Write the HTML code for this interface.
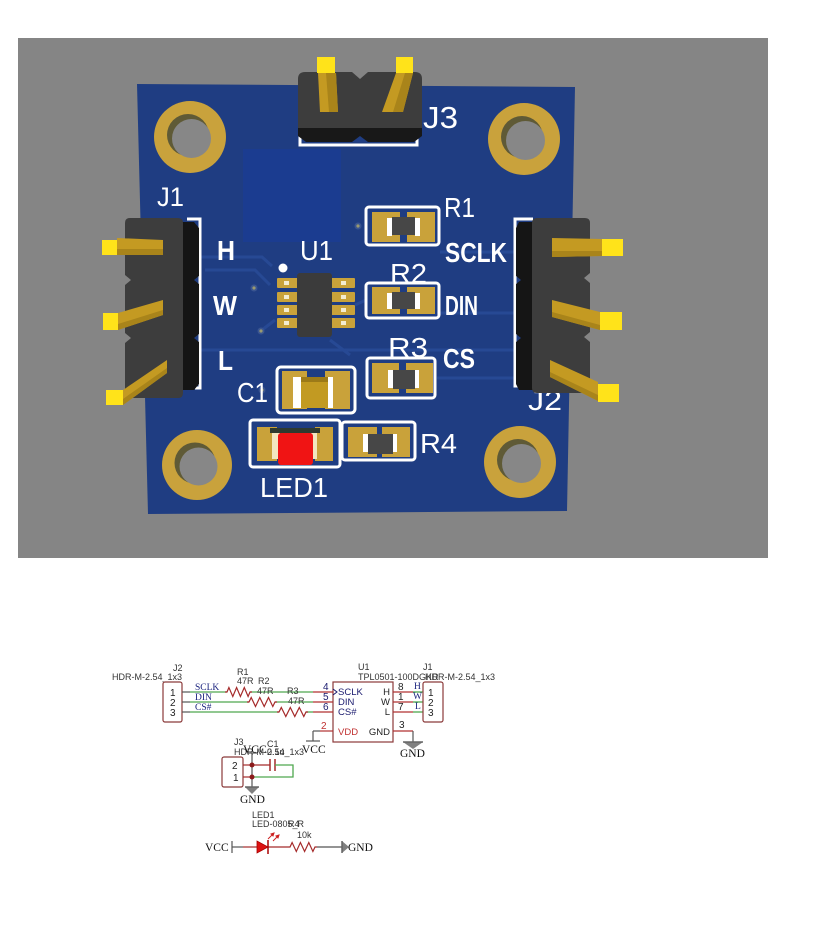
<!DOCTYPE html>
<html><head><meta charset="utf-8">
<style>
html,body{margin:0;padding:0;background:#fff;}
svg{display:block;}
.sil{font-family:"Liberation Sans",sans-serif;fill:#fff;font-size:28px;}
.b{font-weight:bold;}
.s{font-family:"Liberation Sans",sans-serif;font-size:9px;fill:#333;}
.pn{font-family:"Liberation Sans",sans-serif;font-size:10px;fill:#222;}
.n{font-family:"Liberation Serif",serif;font-size:9.5px;fill:#1a237e;}
.ul{font-family:"Liberation Sans",sans-serif;font-size:9.5px;fill:#1a1a6e;}
.p{font-family:"Liberation Serif",serif;font-size:11.5px;fill:#111;}
</style></head><body>
<svg width="822" height="928" viewBox="0 0 822 928" xmlns="http://www.w3.org/2000/svg">
<!-- ================= PCB RENDER ================= -->
<rect x="18" y="38" width="750" height="520" fill="#858585"/>
<polygon points="137,84 575,87 567,511 148,514" fill="#1f3d82"/>
<!-- copper pour area -->
<rect x="243" y="149" width="98" height="93" fill="#1b3c90"/>
<!-- traces -->
<g stroke="#284b97" stroke-width="3" fill="none" opacity="0.9">
<path d="M200,257 L262,257 L272,266"/>
<path d="M205,270 L255,270 L270,285"/>
<path d="M200,350 L300,350 L330,350 L520,350"/>
<path d="M437,313 L515,313"/>
<path d="M440,252 L515,252"/>
<path d="M437,378 L515,378"/>
<path d="M355,305 L366,300"/>
<path d="M330,340 L350,355"/>
<path d="M262,330 L275,320"/>
</g>
<!-- vias -->
<g>
<circle cx="358" cy="226" r="3.5" fill="#3a5590"/><circle cx="358" cy="226" r="1.6" fill="#9a9a70"/>
<circle cx="254" cy="288" r="3.5" fill="#3a5590"/><circle cx="254" cy="288" r="1.6" fill="#9a9a70"/>
<circle cx="261" cy="331" r="3.5" fill="#3a5590"/><circle cx="261" cy="331" r="1.6" fill="#9a9a70"/>
<circle cx="262" cy="390" r="3.5" fill="#3a5590"/><circle cx="262" cy="390" r="1.6" fill="#9a9a70"/>
</g>
<!-- mounting holes -->
<g>
<circle cx="190" cy="137" r="36" fill="#c9a23c"/><circle cx="188" cy="135" r="21" fill="#5f5a36"/><circle cx="191.5" cy="138.5" r="19.5" fill="#878787"/>
<circle cx="524" cy="139" r="36" fill="#c9a23c"/><circle cx="522" cy="137" r="21" fill="#5f5a36"/><circle cx="525.5" cy="140.5" r="19.5" fill="#878787"/>
<circle cx="197" cy="465" r="35" fill="#c9a23c"/><circle cx="195" cy="463" r="20.5" fill="#5f5a36"/><circle cx="198.5" cy="466.5" r="19" fill="#878787"/>
<circle cx="520" cy="462" r="36" fill="#c9a23c"/><circle cx="518" cy="460" r="21" fill="#5f5a36"/><circle cx="521.5" cy="463.5" r="19.5" fill="#878787"/>
</g>

<!-- J3 header -->
<polyline points="300,133 300,145 417,145 417,133" fill="none" stroke="#fff" stroke-width="3"/>
<path d="M305,72 L352,72 L360,79 L368,72 L415,72 Q422,72 422,79 L422,128 L298,128 L298,79 Q298,72 305,72 Z" fill="#3d3d3d"/>
<path d="M298,128 L422,128 L422,136 L414,142 L368,142 L360,136 L352,142 L306,142 L298,136 Z" fill="#181818"/>
<polygon points="318,73 336,73 338,112 320,112" fill="#c49a22"/>
<polygon points="326,73 336,73 338,112 329,112" fill="#a9841a"/>
<rect x="317" y="57" width="18" height="16" fill="#ffe31a"/>
<polygon points="396,73 413,73 403,112 382,112" fill="#c49a22"/>
<polygon points="405,73 413,73 403,112 393,112" fill="#a9841a"/>
<rect x="396" y="57" width="17" height="16" fill="#ffe31a"/>
<text x="423" y="128" textLength="35" lengthAdjust="spacingAndGlyphs" class="sil" style="font-size:31px">J3</text>

<!-- J1 header (left) -->
<polyline points="187,219 200,219 200,388 195,388" fill="none" stroke="#fff" stroke-width="3"/>
<path d="M180,222 L194,222 L199,228 L199,276 L194,280 L199,284 L199,334 L194,338 L199,342 L199,384 L194,390 L180,390 Z" fill="#151515"/>
<path d="M130,218 L178,218 Q183,218 183,223 L183,393 Q183,398 178,398 L130,398 Q125,398 125,393 L125,343 L131,338 L125,333 L125,285 L131,280 L125,275 L125,223 Q125,218 130,218 Z" fill="#3d3d3d"/>
<polygon points="117,238 163,240 163,255 117,255" fill="#c49a22"/>
<polygon points="117,249 163,249 163,255 117,255" fill="#a9841a"/>
<rect x="102" y="240" width="15" height="15" fill="#ffe31a"/>
<polygon points="118,313 163,300 163,315 118,330" fill="#c49a22"/>
<polygon points="118,324 163,310 163,315 118,330" fill="#a9841a"/>
<rect x="103" y="313" width="15" height="17" fill="#ffe31a"/>
<polygon points="123,390 167,360 167,373 123,405" fill="#c49a22"/>
<polygon points="123,399 167,368 167,373 123,405" fill="#a9841a"/>
<rect x="106" y="390" width="17" height="15" fill="#ffe31a"/>
<text x="157" y="206" textLength="27" lengthAdjust="spacingAndGlyphs" class="sil" style="font-size:27px">J1</text>
<text x="217" y="260" textLength="18" lengthAdjust="spacingAndGlyphs" class="sil b">H</text>
<text x="213" y="315" textLength="24" lengthAdjust="spacingAndGlyphs" class="sil b">W</text>
<text x="218" y="370" textLength="15" lengthAdjust="spacingAndGlyphs" class="sil b">L</text>

<!-- J2 header (right) -->
<text x="528" y="410" textLength="34" lengthAdjust="spacingAndGlyphs" class="sil">J2</text>
<polyline points="533,219 515,219 515,386 523,386" fill="none" stroke="#fff" stroke-width="3"/>
<path d="M519,222 L535,222 L535,390 L519,390 L516,384 L516,342 L521,338 L516,334 L516,284 L521,280 L516,276 L516,228 Z" fill="#151515"/>
<path d="M537,218 L585,218 Q590,218 590,223 L590,273 L584,278 L590,283 L590,332 L584,337 L590,342 L590,388 Q590,393 585,393 L537,393 Q532,393 532,388 L532,223 Q532,218 537,218 Z" fill="#3d3d3d"/>
<polygon points="552,238 602,239 602,256 552,257" fill="#c49a22"/>
<polygon points="552,251 602,251 602,256 552,257" fill="#a9841a"/>
<rect x="602" y="239" width="21" height="17" fill="#ffe31a"/>
<polygon points="552,300 600,312 600,330 552,317" fill="#c49a22"/>
<polygon points="552,312 600,325 600,330 552,317" fill="#a9841a"/>
<rect x="600" y="312" width="22" height="18" fill="#ffe31a"/>
<polygon points="550,360 598,382 598,401 550,377" fill="#c49a22"/>
<polygon points="550,372 598,395 598,401 550,377" fill="#a9841a"/>
<rect x="598" y="384" width="21" height="18" fill="#ffe31a"/>

<!-- U1 -->
<circle cx="283" cy="268" r="4.5" fill="#fff"/>
<g fill="#c9a23a">
<rect x="277" y="278" width="21" height="10" rx="1"/><rect x="277" y="292" width="21" height="10" rx="1"/>
<rect x="277" y="305" width="21" height="10" rx="1"/><rect x="277" y="318" width="21" height="10" rx="1"/>
<rect x="331" y="278" width="24" height="10" rx="1"/><rect x="331" y="292" width="24" height="10" rx="1"/>
<rect x="331" y="305" width="24" height="10" rx="1"/><rect x="331" y="318" width="24" height="10" rx="1"/>
</g>
<g fill="#f4ecd0">
<rect x="284" y="281" width="5" height="4"/><rect x="284" y="295" width="5" height="4"/>
<rect x="284" y="308" width="5" height="4"/><rect x="284" y="321" width="5" height="4"/>
<rect x="341" y="281" width="5" height="4"/><rect x="341" y="295" width="5" height="4"/>
<rect x="341" y="308" width="5" height="4"/><rect x="341" y="321" width="5" height="4"/>
</g>
<rect x="297" y="273" width="35" height="64" rx="3" fill="#3b3b3b"/>
<text x="300" y="260" textLength="33" lengthAdjust="spacingAndGlyphs" class="sil">U1</text>

<!-- R1 -->
<rect x="366" y="207" width="73" height="38" rx="3" fill="none" stroke="#fff" stroke-width="3"/>
<rect x="372" y="212" width="28" height="30" fill="#c9a23a"/><rect x="407" y="212" width="28" height="30" fill="#c9a23a"/>
<rect x="387" y="218" width="5" height="18" fill="#fff"/><rect x="415" y="218" width="5" height="18" fill="#fff"/>
<rect x="392" y="217" width="23" height="18" fill="#474747"/>
<text x="444" y="217" textLength="31" lengthAdjust="spacingAndGlyphs" class="sil">R1</text>
<text x="445" y="262" textLength="62" lengthAdjust="spacingAndGlyphs" class="sil b">SCLK</text>
<!-- R2 -->
<rect x="366" y="283" width="73" height="35" rx="3" fill="none" stroke="#fff" stroke-width="3"/>
<rect x="372" y="287" width="28" height="27" fill="#c9a23a"/><rect x="407" y="287" width="28" height="27" fill="#c9a23a"/>
<rect x="387" y="293" width="5" height="16" fill="#fff"/><rect x="415" y="293" width="5" height="16" fill="#fff"/>
<rect x="392" y="292" width="23" height="17" fill="#474747"/>
<text x="390" y="283" textLength="37" lengthAdjust="spacingAndGlyphs" class="sil">R2</text>
<text x="445" y="315" textLength="33" lengthAdjust="spacingAndGlyphs" class="sil b">DIN</text>
<!-- R3 -->
<rect x="367" y="358" width="68" height="40" rx="3" fill="none" stroke="#fff" stroke-width="3"/>
<rect x="372" y="363" width="27" height="30" fill="#c9a23a"/><rect x="406" y="363" width="27" height="30" fill="#c9a23a"/>
<rect x="388" y="370" width="5" height="18" fill="#fff"/><rect x="414" y="370" width="5" height="18" fill="#fff"/>
<rect x="393" y="370" width="22" height="19" fill="#474747"/>
<text x="388" y="357" textLength="40" lengthAdjust="spacingAndGlyphs" class="sil">R3</text>
<text x="443" y="368" textLength="32" lengthAdjust="spacingAndGlyphs" class="sil b">CS</text>
<!-- C1 -->
<rect x="277" y="367" width="78" height="46" rx="4" fill="none" stroke="#fff" stroke-width="3"/>
<rect x="282" y="371" width="25" height="38" fill="#c9a23a"/><rect x="325" y="371" width="25" height="38" fill="#c9a23a"/>
<rect x="293" y="377" width="9" height="31" fill="#fff"/><rect x="327" y="377" width="6" height="31" fill="#fff"/>
<rect x="301" y="377" width="27" height="31" fill="#c29a22"/>
<rect x="301" y="377" width="27" height="5" fill="#9c7a18"/>
<text x="237" y="402" textLength="31" lengthAdjust="spacingAndGlyphs" class="sil">C1</text>
<!-- LED1 -->
<rect x="250" y="420" width="90" height="47" rx="3" fill="none" stroke="#fff" stroke-width="3"/>
<rect x="257" y="427" width="20" height="34" fill="#c9a23a"/><rect x="315" y="427" width="18" height="34" fill="#c9a23a"/>
<rect x="272" y="433" width="8" height="26" fill="#f2e6c0"/><rect x="311" y="433" width="6" height="26" fill="#f2e6c0"/>
<rect x="270" y="428" width="50" height="5" fill="#2f3a2f"/>
<rect x="278" y="433" width="35" height="32" rx="3" fill="#f01414"/>
<text x="260" y="497" textLength="68" lengthAdjust="spacingAndGlyphs" class="sil">LED1</text>
<!-- R4 -->
<rect x="342" y="422" width="73" height="38" rx="3" fill="none" stroke="#fff" stroke-width="3"/>
<rect x="348" y="427" width="29" height="30" fill="#c9a23a"/><rect x="382" y="427" width="28" height="30" fill="#c9a23a"/>
<rect x="363" y="434" width="5" height="18" fill="#fff"/><rect x="392" y="434" width="5" height="18" fill="#fff"/>
<rect x="368" y="434" width="25" height="20" fill="#474747"/>
<text x="420" y="453" textLength="37" lengthAdjust="spacingAndGlyphs" class="sil">R4</text>

<!-- ================= SCHEMATIC ================= -->
<!-- J2 -->
<text x="173" y="671" class="s">J2</text>
<text x="112" y="680" class="s">HDR-M-2.54_1x3</text>
<rect x="163" y="682" width="19" height="40" rx="2" fill="none" stroke="#8b3a3a" stroke-width="1.2"/>
<text x="170" y="696" class="pn">1</text><text x="170" y="706" class="pn">2</text><text x="170" y="716" class="pn">3</text>
<g stroke="#555" stroke-width="1.2"><line x1="182" y1="692" x2="190" y2="692"/><line x1="182" y1="702" x2="190" y2="702"/><line x1="182" y1="712" x2="190" y2="712"/></g>
<g stroke="#4fa84f" stroke-width="1.3" fill="none">
<line x1="190" y1="692" x2="227" y2="692"/><line x1="250" y1="692" x2="313" y2="692"/>
<line x1="190" y1="702" x2="249" y2="702"/><line x1="275" y1="702" x2="313" y2="702"/>
<line x1="190" y1="712" x2="279" y2="712"/><line x1="306" y1="712" x2="313" y2="712"/>
</g>
<g stroke="#a52a2a" stroke-width="1.2" fill="none">
<polyline points="225,692 227,692 228.9,687.5 232.8,696.5 236.6,687.5 240.4,696.5 244.3,687.5 248.1,696.5 250,692 252,692"/>
<polyline points="247,702 249,702 251.2,697.5 255.5,706.5 259.8,697.5 264.2,706.5 268.5,697.5 272.8,706.5 275,702 277,702"/>
<polyline points="277,712 279,712 281.3,707.5 285.8,716.5 290.3,707.5 294.8,716.5 299.3,707.5 303.8,716.5 306,712 308,712"/>
</g>
<text x="195" y="690" class="n">SCLK</text><text x="195" y="700" class="n">DIN</text><text x="195" y="710" class="n">CS#</text>
<text x="237" y="675" class="s">R1</text><text x="237" y="684" class="s">47R</text>
<text x="258" y="684" class="s">R2</text><text x="257" y="694" class="s">47R</text>
<text x="287" y="694" class="s">R3</text><text x="288" y="704" class="s">47R</text>

<!-- U1 -->
<text x="358" y="670" class="s">U1</text>
<text x="358" y="680" class="s">TPL0501-100DGKR</text>
<text x="423" y="670" class="s">J1</text>
<text x="425" y="680" class="s">HDR-M-2.54_1x3</text>
<rect x="333" y="682" width="60" height="60" fill="none" stroke="#8b3a3a" stroke-width="1.2"/>
<g stroke="#b03030" stroke-width="1.2">
<line x1="313" y1="692" x2="333" y2="692"/><line x1="313" y1="702" x2="333" y2="702"/><line x1="313" y1="712" x2="333" y2="712"/>
<line x1="320" y1="731" x2="333" y2="731"/>
<line x1="393" y1="692" x2="413" y2="692"/><line x1="393" y1="702" x2="413" y2="702"/><line x1="393" y1="712" x2="413" y2="712"/>
<line x1="393" y1="731" x2="413" y2="731"/>
</g>
<polyline points="333,689 337,692 333,695" fill="none" stroke="#1a1a6e" stroke-width="1"/>
<text x="323" y="690" class="pn" style="fill:#1a1a6e">4</text><text x="323" y="700" class="pn" style="fill:#1a1a6e">5</text><text x="323" y="710" class="pn" style="fill:#1a1a6e">6</text>
<text x="321" y="729" class="pn" style="fill:#c03030">2</text>
<text x="398" y="690" class="pn">8</text><text x="398" y="700" class="pn">1</text><text x="398" y="710" class="pn">7</text>
<text x="399" y="728" class="pn">3</text>
<text x="338" y="695" class="ul">SCLK</text><text x="338" y="705" class="ul">DIN</text><text x="338" y="715" class="ul">CS#</text>
<text x="338" y="735" class="ul" style="fill:#c03030">VDD</text>
<text x="390" y="695" class="ul" text-anchor="end" style="fill:#222">H</text>
<text x="390" y="705" class="ul" text-anchor="end" style="fill:#222">W</text>
<text x="390" y="715" class="ul" text-anchor="end" style="fill:#222">L</text>
<text x="390" y="735" class="ul" text-anchor="end" style="fill:#222">GND</text>
<g stroke="#4fa84f" stroke-width="1.3"><line x1="413" y1="692" x2="423" y2="692"/><line x1="413" y1="702" x2="423" y2="702"/><line x1="413" y1="712" x2="423" y2="712"/></g>
<text x="414" y="689" class="n">H</text><text x="413" y="699" class="n">W</text><text x="415" y="709" class="n">L</text>
<rect x="423" y="682" width="20" height="40" rx="2" fill="none" stroke="#8b3a3a" stroke-width="1.2"/>
<text x="428" y="696" class="pn">1</text><text x="428" y="706" class="pn">2</text><text x="428" y="716" class="pn">3</text>
<!-- VCC at VDD -->
<g stroke="#555" stroke-width="1.2"><line x1="313" y1="731" x2="320" y2="731"/><line x1="313" y1="731" x2="313" y2="741"/><line x1="306" y1="741" x2="320" y2="741"/></g>
<text x="302" y="753" class="p">VCC</text>
<!-- GND at U1 -->
<g stroke="#555" stroke-width="1.2"><line x1="413" y1="731" x2="413" y2="742"/></g>
<polygon points="403,742 423,742 413,749" fill="#808080"/>
<line x1="403" y1="742" x2="423" y2="742" stroke="#666" stroke-width="1.5"/>
<text x="400" y="757" class="p">GND</text>

<!-- J3 -->
<text x="234" y="745" class="s">J3</text>
<text x="234" y="755" class="s">HDR-M-2.54_1x3</text>
<text x="267" y="747" class="s">C1</text>
<text x="267" y="755" class="s">0.1u</text>
<text x="243" y="753" class="p">VCC</text>
<rect x="222" y="757" width="21" height="30" rx="2" fill="none" stroke="#8b3a3a" stroke-width="1.2"/>
<text x="232" y="769" class="pn">2</text><text x="233" y="781" class="pn">1</text>
<g stroke="#a52a2a" stroke-width="1.2"><line x1="243" y1="765" x2="252" y2="765"/><line x1="243" y1="777" x2="252" y2="777"/><line x1="252" y1="765" x2="270" y2="765"/></g>
<g stroke="#555" stroke-width="1.2"><line x1="252" y1="753" x2="252" y2="788"/><line x1="247" y1="753" x2="257" y2="753"/></g>
<g stroke="#a52a2a" stroke-width="1.5"><line x1="270" y1="759" x2="270" y2="771"/><line x1="275" y1="759" x2="275" y2="771"/></g>
<g stroke="#4fa84f" stroke-width="1.3" fill="none"><polyline points="275,765 293,765 293,777 252,777"/></g>
<circle cx="252" cy="765" r="2.5" fill="#8b1a1a"/><circle cx="252" cy="777" r="2.5" fill="#8b1a1a"/>
<polygon points="245,787 259,787 252,794" fill="#808080"/>
<line x1="245" y1="787" x2="259" y2="787" stroke="#666" stroke-width="1.5"/>
<text x="240" y="803" class="p">GND</text>

<!-- LED1 / R4 -->
<text x="252" y="818" class="s">LED1</text>
<text x="252" y="827" class="s">LED-0805_R</text>
<text x="288" y="827" class="s">R4</text>
<text x="297" y="838" class="s">10k</text>
<text x="205" y="851" class="p">VCC</text>
<g stroke="#555" stroke-width="1.2"><line x1="232" y1="841" x2="232" y2="853"/><line x1="232" y1="847" x2="243" y2="847"/><line x1="317" y1="847" x2="342" y2="847"/></g>
<g stroke="#a52a2a" stroke-width="1.2" fill="none">
<line x1="243" y1="847" x2="257" y2="847"/><line x1="268" y1="847" x2="288" y2="847"/>
<polyline points="288,847 290,847 292.1,842.5 296.3,851.5 300.4,842.5 304.6,851.5 308.8,842.5 312.9,851.5 315,847 317,847"/>
</g>
<polygon points="257,841 257,853 268,847" fill="#dd1111" stroke="#aa0000" stroke-width="0.8"/>
<line x1="268" y1="840" x2="268" y2="854" stroke="#aa0000" stroke-width="1.5"/>
<g stroke="#cc2222" stroke-width="1" fill="#cc2222">
<line x1="268" y1="839" x2="273" y2="834"/><polygon points="274,833 271,834 273,836"/>
<line x1="273" y1="841" x2="278" y2="836"/><polygon points="279,835 276,836 278,838"/>
</g>
<polygon points="342,841 342,853 349,847" fill="#808080"/>
<line x1="342" y1="841" x2="342" y2="853" stroke="#666" stroke-width="1.5"/>
<text x="348" y="851" class="p">GND</text>
</svg>
</body></html>
